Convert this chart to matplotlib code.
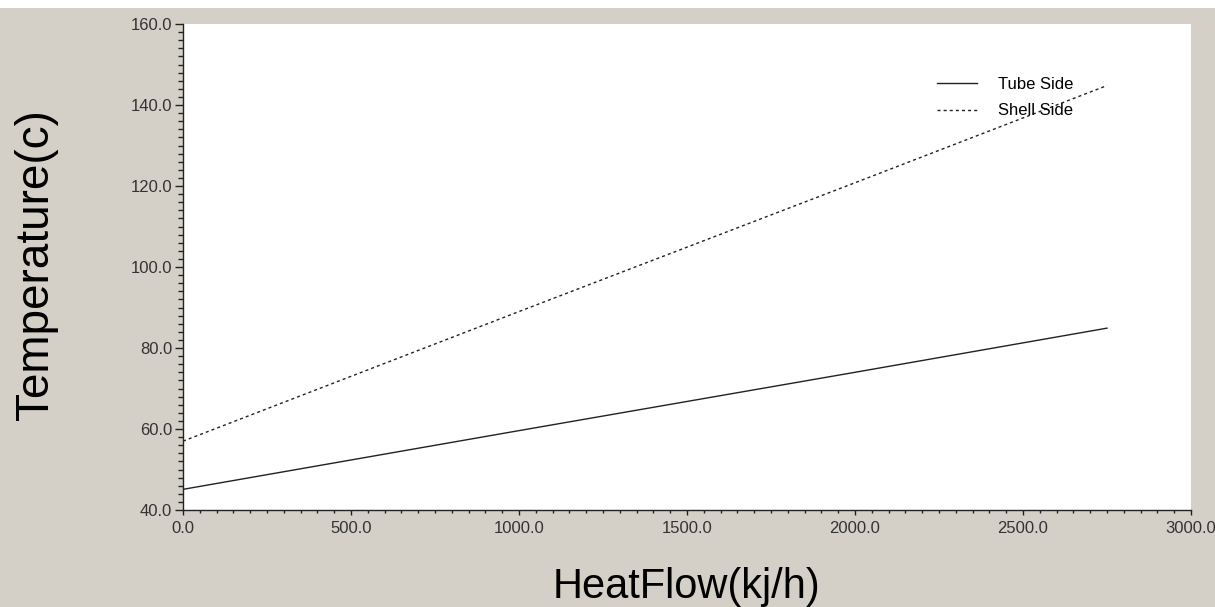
import matplotlib
matplotlib.use('Agg')
import matplotlib.pyplot as plt
from matplotlib.patches import Rectangle
from matplotlib.ticker import MultipleLocator, FormatStrFormatter

# values
heat_flow = [0.0, 1000.0, 2000.0, 2750.0]
tube_side = [45.1, 59.6, 74.0, 84.9]
shell_side = [57.0, 89.0, 120.8, 144.8]

x_ticks = [0, 500, 1000, 1500, 2000, 2500, 3000]
y_ticks = [40, 60, 80, 100, 120, 140, 160]

bg = '#d4d0c8'
plt.rcParams['font.family'] = ['Liberation Sans', 'DejaVu Sans']

fig = plt.figure(figsize=(12.15, 6.07), dpi=100, facecolor=bg)
fig.patches.append(Rectangle((0, 1 - 8 / 607), 1, 8 / 607, transform=fig.transFigure,
                             facecolor='white', edgecolor='none', zorder=0))
ax = fig.add_axes([183 / 1215, 97 / 607, 1008 / 1215, 486 / 607])
ax.set_facecolor('white')

ax.plot(heat_flow, tube_side, color='#222222', lw=1.0, label='Tube Side')
ax.plot(heat_flow, shell_side, color='#222222', lw=1.0, dashes=(2.2, 2.2), label='Shell Side')

ax.set_xlim(0, 3000)
ax.set_ylim(40, 160)
ax.set_xticks(x_ticks)
ax.set_yticks(y_ticks)
ax.xaxis.set_minor_locator(MultipleLocator(50))
ax.yaxis.set_minor_locator(MultipleLocator(2))
ax.xaxis.set_major_formatter(FormatStrFormatter('%.1f'))
ax.yaxis.set_major_formatter(FormatStrFormatter('%.1f'))

for s in ['top', 'right']:
    ax.spines[s].set_visible(False)
for s in ['left', 'bottom']:
    ax.spines[s].set_color('#222222')
    ax.spines[s].set_linewidth(1.0)

ax.tick_params(axis='y', which='major', length=5.8, width=1, color='#222222',
               labelsize=12, labelcolor='#333333', pad=2)
ax.tick_params(axis='y', which='minor', length=3.6, width=1, color='#222222')
ax.tick_params(axis='x', which='major', length=3.6, width=1, color='#222222',
               labelsize=12, labelcolor='#333333', pad=4)
ax.tick_params(axis='x', which='minor', length=2.2, width=1, color='#222222')

ax.set_xlabel('HeatFlow(kj/h)', fontsize=30, color='black')
ax.xaxis.set_label_coords(0.5, -0.118)
ax.set_ylabel('Temperature(c)', fontsize=33, color='black', va='center')
ax.yaxis.set_label_coords(-0.1458, 0.504)

ax.legend(loc='upper left', bbox_to_anchor=(0.748, 0.891), frameon=False,
          fontsize=12, handlelength=2.4, handletextpad=1.25, labelspacing=0.69,
          borderpad=0, borderaxespad=0)

fig.savefig('out.png', dpi=100, facecolor=bg)
